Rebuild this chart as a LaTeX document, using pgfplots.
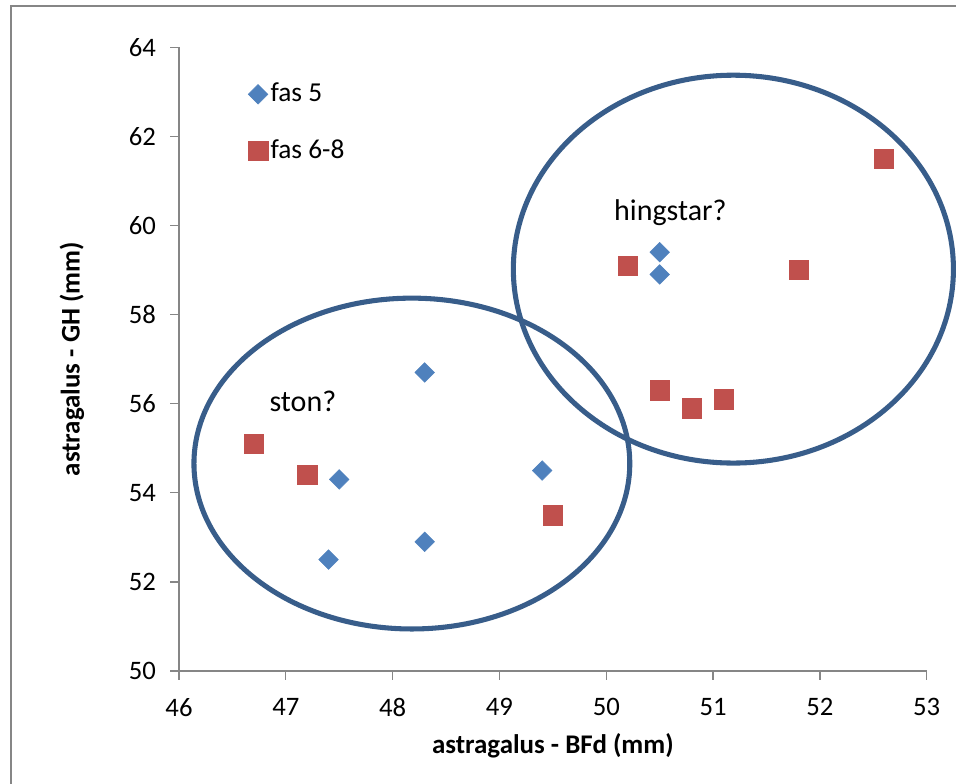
\documentclass[border=0pt]{standalone}
\usepackage{pgfplots}
\pgfplotsset{compat=1.18}
\usepackage{fontspec}
\setmainfont{Carlito}
\definecolor{fasblue}{HTML}{4F81BD}
\definecolor{fasred}{HTML}{C0504D}
\definecolor{ringblue}{HTML}{385D8A}
\definecolor{axisgray}{HTML}{868686}

\begin{document}
\begin{tikzpicture}
\fontsize{20}{24}\selectfont
% outer chart frame
\draw[axisgray, line width=1pt] (8.25pt,-20pt) rectangle (760pt,583.5pt);
\begin{axis}[
  at={(134.25pt,84.75pt)}, anchor=south west,
  scale only axis, width=560.8pt, height=467.8pt,
  xmin=46, xmax=53, ymin=50, ymax=64,
  xtick={46,47,...,53}, ytick={50,52,...,64},
  axis x line*=bottom, axis y line*=left,
  axis line style={axisgray, line width=1pt, -},
  tick style={axisgray, line width=1pt},
  tick align=outside, major tick length=6.5pt,
  clip=false,
  /pgf/number format/assume math mode=true,
  ticklabel style={font=\fontsize{20}{24}\selectfont},
  xticklabel style={yshift=-7pt},
  yticklabel style={xshift=-4pt},
  label style={font=\fontsize{20.2}{24}\selectfont\bfseries},
  xlabel={astragalus - BFd (mm)},
  ylabel={astragalus - GH (mm)},
  xlabel style={at={(axis description cs:0.5,-0.1203)}, anchor=center},
  ylabel style={at={(axis description cs:-0.1431,0.5)}, anchor=center},
  legend style={at={(axis cs:46.646,62.31)}, anchor=west, draw=none, fill=none,
    inner sep=0pt, row sep=21.3pt,
    font=\fontsize{20.5}{24}\selectfont,
    nodes={inner sep=2pt}},
  legend cell align=left,
  legend image code/.code={\draw[mark repeat=2,mark phase=2,#1] plot coordinates {(0pt,0pt)(4pt,0pt)(8pt,0pt)};},
]
% fas 5
\addplot[only marks, mark=square*, mark size=5.2pt,
  mark options={rotate=45, fill=fasblue, draw=fasblue}]
  coordinates {
  (48.3,56.7) (47.5,54.3) (47.4,52.5) (48.3,52.9)
  (49.4,54.5) (50.5,59.4) (50.5,58.9)
  };
\addlegendentry{fas 5}
% fas 6-8
\addplot[only marks, mark=square*, mark size=7.3pt,
  mark options={fill=fasred, draw=fasred}]
  coordinates {
  (46.7,55.1) (47.2,54.4) (49.5,53.5) (50.2,59.1) (50.5,56.3)
  (50.8,55.9) (51.1,56.1) (51.8,59.0) (52.6,61.5)
  };
\addlegendentry{fas 6-8}
% groupings
\draw[ringblue, line width=3.8pt] (axis cs:48.18,54.656) ellipse [x radius=2.04, y radius=3.713];
\draw[ringblue, line width=3.8pt] (axis cs:51.19,59.02) ellipse [x radius=2.06, y radius=4.353];
\node[font=\fontsize{22.5}{27}\selectfont] at (axis cs:50.6,60.28) {hingstar?};
\node[font=\fontsize{22.5}{27}\selectfont] at (axis cs:47.16,56.06) {ston?};
\end{axis}
\pgfresetboundingbox
\path[use as bounding box] (0,0) rectangle (717pt,588pt);
\end{tikzpicture}
\end{document}
